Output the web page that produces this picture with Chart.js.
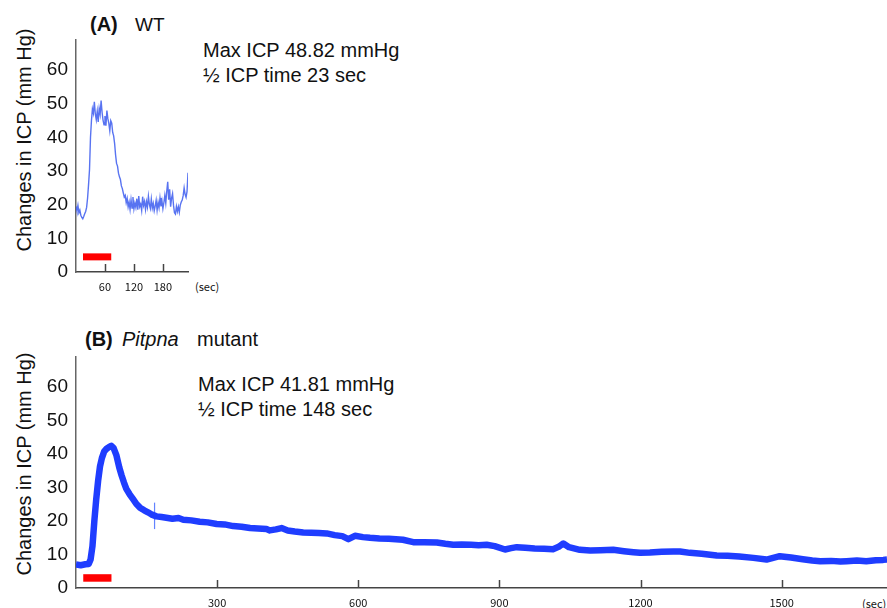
<!DOCTYPE html>
<html>
<head>
<meta charset="utf-8">
<script src="https://cdn.jsdelivr.net/npm/chart.js@4.4.0/dist/chart.umd.min.js"></script>
<style>
body { margin: 0; background: #fff; width: 887px; height: 608px; overflow: hidden; position: relative;
       font-family: "Liberation Sans", Arial, sans-serif; color: #111; }
.t { position: absolute; white-space: nowrap; font-size: 20px; line-height: 25px; }
.yt { position: absolute; white-space: nowrap; font-size: 20px; line-height: 20px;
      transform: translate(-50%, -50%) rotate(-90deg); }
.sec { position: absolute; font-family: "Noto Sans CJK JP", sans-serif; font-size: 11px; line-height: 14px; color: #111; }
canvas { position: absolute; }
</style>
</head>
<body>
<div class="yt" style="left:24px;top:140px">Changes in ICP (mm Hg)</div>
<div class="yt" style="left:24px;top:464px">Changes in ICP (mm Hg)</div>

<div class="t" style="left:90px;top:12px"><b>(A)</b></div>
<div class="t" style="left:135px;top:12px;font-size:19px">WT</div>
<div class="t" style="left:203px;top:38px">Max ICP 48.82 mmHg<br>½ ICP time 23 sec</div>

<div class="t" style="left:85px;top:327px"><b>(B)</b></div>
<div class="t" style="left:122px;top:327px"><i>Pitpna</i></div>
<div class="t" style="left:197px;top:327px">mutant</div>
<div class="t" style="left:198px;top:372px">Max ICP 41.81 mmHg<br>½ ICP time 148 sec</div>

<div class="sec" style="left:195px;top:279px">(sec)</div>
<div class="sec" style="left:862px;top:596px">(sec)</div>

<canvas id="chartA" width="200" height="300" style="left:0;top:0"></canvas>
<canvas id="chartB" width="887" height="308" style="left:0;top:300px"></canvas>

<script>
// y axis ticks shared by both panels
const yTicks = [0, 10, 20, 30, 40, 50, 60];

// (A) WT trace
const xTicksA = [60, 120, 180];
const timeA = [
    0, 2, 4, 6, 8, 10, 12, 14, 16, 18,
    20, 22, 24, 26, 28, 30, 32, 34, 36, 38,
    40, 42, 44, 46, 48, 50, 52, 54, 56, 58,
    60, 62, 64, 66, 68, 70, 72, 74, 76, 78,
    80, 82, 84, 86, 88, 90, 92, 94, 96, 98,
    100, 102, 104, 106, 108, 110, 112, 114, 116, 118,
    120, 122, 124, 126, 128, 130, 132, 134, 136, 138,
    140, 142, 144, 146, 148, 150, 152, 154, 156, 158,
    160, 162, 164, 166, 168, 170, 172, 174, 176, 178,
    180, 182, 184, 186, 188, 190, 192, 194, 196, 198,
    200, 202, 204, 206, 208, 210, 212, 214, 216, 218,
    220, 222, 224, 226, 228, 230, 232
];
const icpA = [
    19.5, 18.2, 19.8, 17.6, 18.4, 16.9, 16.2, 15.8, 16.5, 17.3,
    18.0, 19.2, 22.0, 26.0, 30.5, 40.0, 45.0, 48.5, 47.2, 50.6,
    47.0, 45.3, 47.8, 44.6, 48.6, 46.9, 51.0, 47.5, 45.2, 43.8,
    46.4, 43.5, 48.0, 45.6, 44.2, 42.0, 45.0, 44.3, 41.5, 40.5,
    38.2, 34.8, 32.3, 31.5, 29.4, 28.3, 27.5, 25.6, 24.8, 23.5,
    22.3, 22.8, 20.6, 21.9, 19.4, 20.8, 18.6, 21.5, 19.0, 22.3,
    18.8, 20.5, 19.2, 21.8, 18.5, 22.6, 19.4, 20.2, 18.3, 22.4,
    19.8, 21.0, 18.6, 20.9, 19.3, 22.5, 20.1, 18.9, 21.7, 19.0,
    20.4, 18.2, 19.6, 21.3, 18.4, 20.7, 19.1, 22.0, 19.5, 21.2,
    18.8, 20.6, 22.8, 20.5, 24.0, 26.8, 21.5, 24.6, 19.4, 22.0,
    23.3, 19.8, 17.6, 17.2, 19.5, 18.0, 19.4, 17.8, 19.9, 20.8,
    21.4, 22.7, 25.0, 23.1, 22.2, 24.0, 29.5
];
const stimA = [14.5, 73];   // red bar start / end (sec)
const stimLevelA = 4.5;

// (B) Pitpna mutant trace
const xTicksB = [300, 600, 900, 1200, 1500];
const timeB = [
    0, 10, 20, 27, 31, 35, 39, 43, 47, 51,
    55, 60, 65, 70, 75, 80, 86, 92, 97, 102,
    107, 114, 121, 129, 136, 145, 153, 160, 171, 182,
    192, 205, 218, 228, 245, 263, 280, 299, 316, 334,
    352, 370, 387, 405, 412, 425, 437, 450, 465, 483,
    500, 516, 533, 550, 566, 579, 593, 610, 625, 645,
    665, 695, 717, 740, 767, 785, 802, 820, 840, 856,
    873, 890, 912, 925, 937, 955, 975, 995, 1014, 1026,
    1036, 1048, 1071, 1093, 1115, 1142, 1165, 1185, 1199, 1220,
    1245, 1270, 1284, 1305, 1330, 1362, 1385, 1410, 1440, 1468,
    1482, 1496, 1520, 1545, 1565, 1582, 1605, 1625, 1638, 1660,
    1680, 1700, 1716, 1724
];
const icpB = [
    7.0, 6.8, 7.1, 7.2, 8.5, 12.5, 20.0, 26.5, 32.0, 36.3,
    38.8, 40.8, 41.6, 42.1, 42.5, 41.8, 39.6, 36.0, 33.6, 31.5,
    29.6, 28.0, 26.6, 25.0, 24.0, 23.2, 22.6, 22.0, 21.4, 21.2,
    21.0, 20.7, 20.9, 20.4, 20.2, 19.8, 19.6, 19.1, 19.0, 18.5,
    18.3, 17.9, 17.8, 17.6, 17.2, 17.5, 17.9, 17.2, 16.9, 16.6,
    16.5, 16.4, 16.3, 15.8, 15.5, 14.6, 15.6, 15.2, 15.0, 14.8,
    14.7, 14.4, 13.7, 13.7, 13.6, 13.2, 12.9, 13.0, 12.9, 12.8,
    12.9, 12.5, 11.5, 11.9, 12.2, 12.0, 11.8, 11.7, 11.6, 12.3,
    13.3, 12.2, 11.4, 11.2, 11.3, 11.4, 11.0, 10.7, 10.5, 10.6,
    10.8, 10.9, 10.9, 10.5, 10.2, 9.7, 9.6, 9.4, 9.0, 8.5,
    9.0, 9.5, 9.1, 8.6, 8.2, 8.0, 8.1, 7.9, 8.0, 8.2,
    8.0, 8.3, 8.4, 8.5
];
const glitchB = [167, 17.6, 25.5];   // artefact spike: time, low, high
const stimB = [15.4, 75.4];
const stimLevelB = 3.0;

// inward tick marks on the time axis
const innerTicks = {
    id: 'innerTicks',
    afterDraw(chart) {
        const xs = chart.scales.x;
        const ctx = chart.ctx;
        ctx.save();
        ctx.strokeStyle = '#444';
        ctx.lineWidth = 1.5;
        xs.ticks.forEach(t => {
            const px = Math.round(xs.getPixelForValue(t.value)) + 0.5;
            ctx.beginPath();
            ctx.moveTo(px, xs.top);
            ctx.lineTo(px, xs.top - 8);
            ctx.stroke();
        });
        ctx.restore();
    }
};

function makeOptions(xMax, xTicks, padTop, padRight, xHeight) {
    return {
        responsive: false,
        animation: false,
        layout: { padding: { top: padTop, right: padRight, left: 0, bottom: 0 } },
        plugins: { legend: { display: false }, tooltip: { enabled: false } },
        scales: {
            x: {
                type: 'linear', min: 0, max: xMax,
                grid: { display: false, drawTicks: false },
                border: { display: true, color: '#444', width: 1.5 },
                afterBuildTicks: s => { s.ticks = xTicks.map(v => ({ value: v })); },
                afterFit: s => { s.height = xHeight; },
                ticks: {
                    padding: 8, autoSkip: false, maxRotation: 0, color: '#111',
                    font: { family: 'Noto Sans CJK JP', size: 11 },
                    callback: v => String(v)
                }
            },
            y: {
                min: 0, max: 69,
                grid: { display: false, drawTicks: false },
                border: { display: true, color: '#666', width: 1.5 },
                afterBuildTicks: s => { s.ticks = yTicks.map(v => ({ value: v })); },
                afterFit: s => { s.width = 76; },
                ticks: {
                    padding: 8, color: '#111',
                    font: { family: 'Liberation Sans', size: 19 },
                    callback: v => String(v)
                }
            }
        }
    };
}

new Chart(document.getElementById('chartA'), {
    type: 'line',
    data: {
        datasets: [
            {
                data: timeA.map((t, i) => ({ x: t, y: icpA[i] })),
                borderColor: 'rgba(70, 100, 240, 0.9)',
                borderWidth: 1.4,
                pointRadius: 0,
                tension: 0
            },
            {
                data: stimA.map(t => ({ x: t, y: stimLevelA })),
                borderColor: '#ff0000',
                borderWidth: 7,
                borderCapStyle: 'butt',
                pointRadius: 0
            }
        ]
    },
    options: makeOptions(232, xTicksA, 40, 12, 28),
    plugins: [innerTicks]
});

new Chart(document.getElementById('chartB'), {
    type: 'line',
    data: {
        datasets: [
            {
                data: timeB.map((t, i) => ({ x: t, y: icpB[i] })),
                borderColor: '#1f3dff',
                borderWidth: 6.5,
                borderJoinStyle: 'round',
                pointRadius: 0,
                tension: 0
            },
            {
                data: [{ x: glitchB[0], y: glitchB[1] }, { x: glitchB[0], y: glitchB[2] }],
                borderColor: 'rgba(60, 100, 255, 0.8)',
                borderWidth: 1.2,
                pointRadius: 0
            },
            {
                data: stimB.map(t => ({ x: t, y: stimLevelB })),
                borderColor: '#ff0000',
                borderWidth: 7.5,
                borderCapStyle: 'butt',
                pointRadius: 0
            }
        ]
    },
    options: makeOptions(1724, xTicksB, 57, 0, 20),
    plugins: [innerTicks]
});
</script>
</body>
</html>
